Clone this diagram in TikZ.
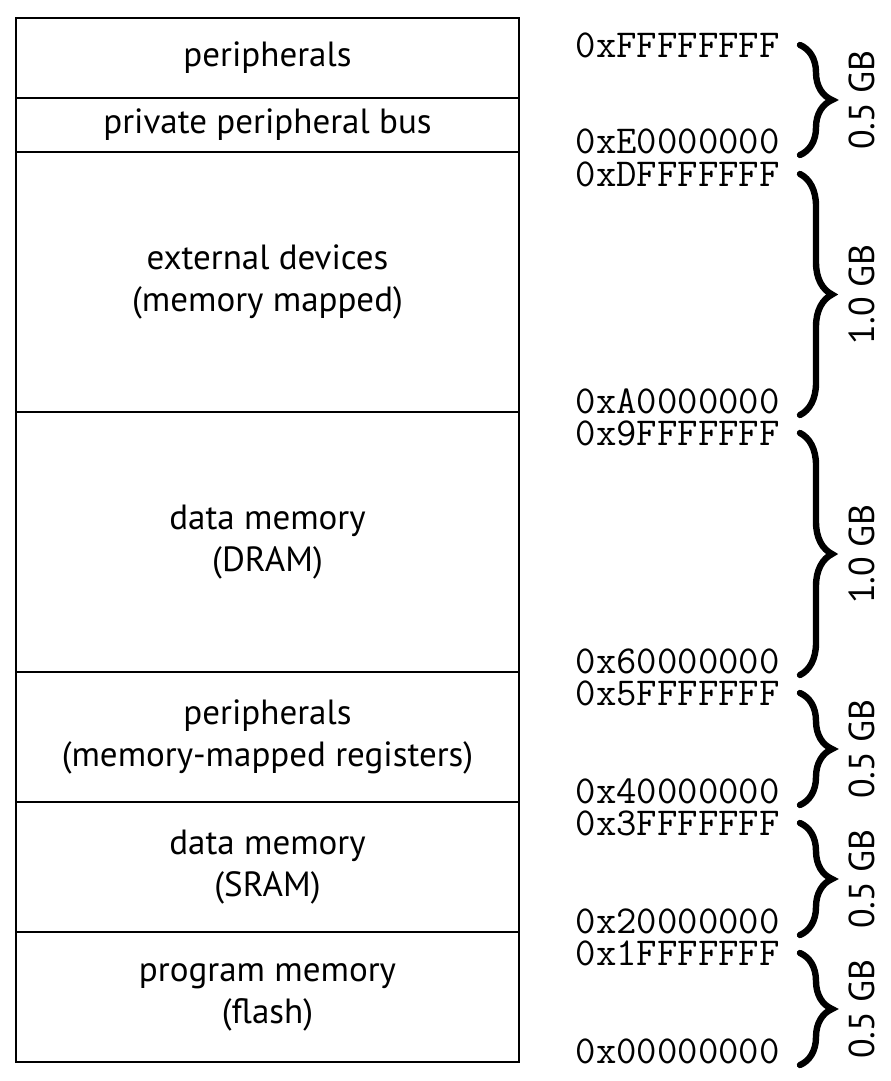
\documentclass[tikz,border=0pt]{standalone}
\usepackage{fontspec}
\setmainfont{PT Sans}
\usetikzlibrary{positioning,decorations.pathreplacing}

\begin{document}
\begin{tikzpicture}[
  x=0.5pt,y=-0.5pt,
  region/.style={draw,line width=0.8pt,minimum width=251.5pt,align=center,inner sep=0pt,outer sep=0pt,font=\fontsize{17.5}{21}\selectfont},
  addr/.style={anchor=east,inner sep=0pt,font=\ttfamily\fontsize{19.8}{22}\selectfont},
  rangebrace/.style={decorate,decoration={brace,amplitude=16pt},line width=3.2pt,line cap=round},
  gbsize/.style={rotate=90,inner sep=0pt,font=\fontsize{18}{21}\selectfont},
]
\useasboundingbox (0,0) rectangle (890,1081);
% memory regions, top to bottom
\node[region,minimum height=40pt,anchor=north west] (perip) at (16,18) {peripherals};
\node[region,minimum height=27pt,below=0pt of perip] (ppb) {private peripheral bus};
\node[region,minimum height=130pt,below=0pt of ppb] (ext) {external devices\\(memory mapped)};
\node[region,minimum height=130pt,below=0pt of ext] (dram) {data memory\\(DRAM)};
\node[region,minimum height=65pt,below=0pt of dram] (mmr) {peripherals\\(memory-mapped registers)};
\node[region,minimum height=65pt,below=0pt of mmr] (sram) {data memory\\(SRAM)};
\node[region,minimum height=65pt,below=0pt of sram] (flash) {program memory\\(flash)};
% address limits, braces and sizes
\foreach \hi/\lo/\yhi/\ylo/\gb [count=\i] in {FFFFFFFF/E0000000/45/141/0.5, DFFFFFFF/A0000000/174/401/1.0,
    9FFFFFFF/60000000/433/661/1.0, 5FFFFFFF/40000000/693/791/0.5,
    3FFFFFFF/20000000/823/921/0.5, 1FFFFFFF/00000000/953/1051/0.5}{
  \node[addr] (hi\i) at (780,\yhi) {0x\hi};
  \node[addr] (lo\i) at (780,\ylo) {0x\lo};
  \draw[rangebrace] ([xshift=10pt]hi\i.east) -- ([xshift=10pt,yshift=-7pt]lo\i.east)
    coordinate[midway] (mid\i);
  \node[gbsize,right=31pt of mid\i,anchor=center] (gb\i) {\gb\ GB};
}
\end{tikzpicture}
\end{document}
